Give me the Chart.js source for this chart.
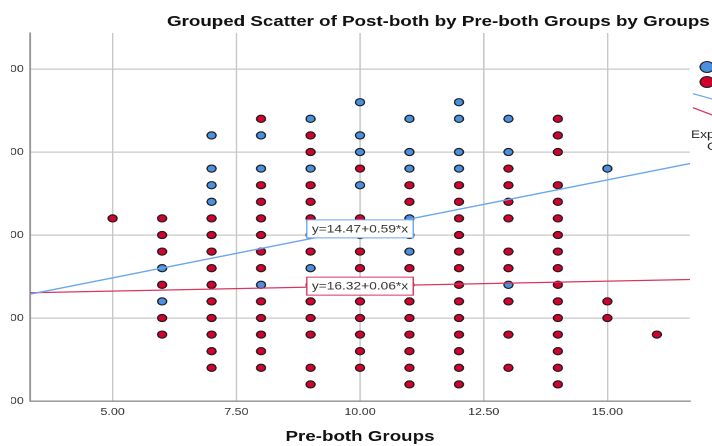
<!DOCTYPE html>
<html>
<head>
<meta charset="utf-8">
<script src="https://cdn.jsdelivr.net/npm/chart.js@4.4.1/dist/chart.umd.min.js"></script>
<style>
  html, body { margin: 0; padding: 0; background: #fff; }
  /* the reference is a cropped, slightly stretched SPSS chart */
  #crop { position: absolute; left: 11px; top: 0; width: 701px; height: 446px; overflow: hidden; }
  #stretch { position: absolute; left: -71px; top: 0; width: 720px; height: 446px;
             transform: scaleX(1.25); transform-origin: 0 0; }
</style>
</head>
<body>
<div id="crop"><div id="stretch"><canvas id="chart"></canvas></div></div>
<script>
const preLevels = [5, 6, 7, 8, 9, 10, 11, 12, 13, 14, 15, 16];

// Post-both values for each Pre-both level
const expPost = [
    [],
    [18, 16],
    [26, 24, 23, 22],
    [26, 24, 17],
    [27, 24, 18],
    [28, 26, 25, 23],
    [27, 25, 24, 21, 19],
    [28, 27, 25, 24],
    [27, 25, 17],
    [],
    [24],
    []
];
const ctrlPost = [
    [21],
    [21, 20, 19, 17, 15, 14],
    [21, 20, 19, 18, 17, 16, 15, 14, 13, 12],
    [27, 23, 22, 21, 20, 19, 18, 16, 15, 14, 13, 12],
    [26, 25, 23, 22, 21, 20, 19, 17, 16, 15, 14, 12, 11],
    [24, 21, 20, 19, 18, 17, 16, 15, 14, 13, 12],
    [23, 22, 20, 18, 17, 16, 15, 14, 13, 12, 11],
    [23, 22, 21, 20, 19, 18, 17, 16, 15, 14, 13, 12, 11],
    [24, 23, 22, 21, 19, 18, 16, 14, 12],
    [27, 26, 25, 23, 22, 21, 20, 19, 18, 17, 16, 15, 14, 13, 12, 11],
    [16, 15],
    [14]
];

const xTicks = [5, 7.5, 10, 12.5, 15];
const yTicks = [10, 15, 20, 25, 30];
const xRange = [3.33, 16.67];
const yRange = [10, 32.17];

const expFit = { a: 14.47, b: 0.59 };
const ctrlFit = { a: 16.32, b: 0.06 };
const groupNames = ["Experimental", "Control"];

const BLUE = "#4a8fe0";
const RED = "#d0022e";
const BLUE_LINE = "#6aa6ee";
const RED_LINE = "#da3560";
const FONT = '"Liberation Sans", Arial, sans-serif';

function toPoints(cols) {
    const pts = [];
    cols.forEach((ys, i) => ys.forEach(y => pts.push({ x: preLevels[i], y: y })));
    return pts;
}

function fitLine(f) {
    return xRange.map(x => ({ x: x, y: f.a + f.b * x }));
}

function fitText(f) {
    return `y=${f.a.toFixed(2)}+${f.b.toFixed(2)}*x`;
}

function rSquared(pts) {
    const n = pts.length;
    const mx = pts.reduce((s, p) => s + p.x, 0) / n;
    const my = pts.reduce((s, p) => s + p.y, 0) / n;
    let sxy = 0, sxx = 0, syy = 0;
    pts.forEach(p => {
        sxy += (p.x - mx) * (p.y - my);
        sxx += (p.x - mx) ** 2;
        syy += (p.y - my) ** 2;
    });
    return (sxy * sxy) / (sxx * syy);
}

const expPoints = toPoints(expPost);
const ctrlPoints = toPoints(ctrlPost);

// box labels for the fit lines, placed at the middle of the x range
const fitLabels = {
    id: "fitLabels",
    afterDatasetsDraw(chart) {
        const { ctx, scales: { x, y } } = chart;
        const xm = (xRange[0] + xRange[1]) / 2;
        ctx.save();
        ctx.font = "11px " + FONT;
        [[expFit, BLUE_LINE], [ctrlFit, RED_LINE]].forEach(([f, col]) => {
            const txt = fitText(f);
            const px = x.getPixelForValue(xm);
            const py = y.getPixelForValue(f.a + f.b * xm);
            const w = ctx.measureText(txt).width + 8;
            const h = 18;
            ctx.fillStyle = "#fff";
            ctx.fillRect(px - w / 2, py - h / 2, w, h);
            ctx.strokeStyle = col;
            ctx.lineWidth = 1;
            ctx.strokeRect(px - w / 2, py - h / 2, w, h);
            ctx.fillStyle = "#333";
            ctx.textAlign = "center";
            ctx.textBaseline = "middle";
            ctx.fillText(txt, px, py + 0.5);
        });
        ctx.restore();
    }
};

// title and the (mostly cropped) legend on the right
const frame = {
    id: "frame",
    afterDraw(chart) {
        const { ctx, chartArea } = chart;
        const r = chartArea.right;
        ctx.save();
        ctx.fillStyle = "#111";
        ctx.font = "bold 15px " + FONT;
        ctx.textAlign = "left";
        ctx.textBaseline = "alphabetic";
        ctx.fillText("Grouped Scatter of Post-both by Pre-both Groups by Groups", 181.6, 26);

        // markers
        [[BLUE, 67], [RED, 82]].forEach(([c, cy], i) => {
            ctx.beginPath();
            ctx.arc(r + 13.6, cy, 5.5, 0, Math.PI * 2);
            ctx.fillStyle = c;
            ctx.fill();
            ctx.strokeStyle = "#222";
            ctx.lineWidth = 1;
            ctx.stroke();
            ctx.fillStyle = "#222";
            ctx.font = "11px " + FONT;
            ctx.textBaseline = "middle";
            ctx.fillText(groupNames[i], r + 23, cy);
        });

        // fit line swatches
        [[BLUE_LINE, 93.7, 101.7, 98], [RED_LINE, 107.7, 118.7, 113]].forEach(([c, y0, y1, ty], i) => {
            ctx.beginPath();
            ctx.moveTo(r + 2.4, y0);
            ctx.lineTo(r + 25.6, y1);
            ctx.strokeStyle = c;
            ctx.lineWidth = 1.2;
            ctx.stroke();
            ctx.fillStyle = "#222";
            ctx.fillText(groupNames[i], r + 30, ty);
        });

        ctx.font = "11px " + FONT;
        ctx.fillStyle = "#222";
        ctx.textBaseline = "alphabetic";
        ctx.fillText(`${groupNames[0]}: R² Linear = ${rSquared(expPoints).toFixed(3)}`, r + 0.8, 138);
        ctx.fillText(`${groupNames[1]}: R² Linear = ${rSquared(ctrlPoints).toFixed(3)}`, r + 13.6, 150);
        ctx.restore();
    }
};

Chart.defaults.font.family = FONT;

new Chart(document.getElementById("chart"), {
    type: "scatter",
    data: {
        datasets: [
            {
                type: "line",
                label: "fit " + groupNames[0],
                data: fitLine(expFit),
                borderColor: BLUE_LINE,
                borderWidth: 1.3,
                pointRadius: 0,
                fill: false,
                order: 0
            },
            {
                type: "line",
                label: "fit " + groupNames[1],
                data: fitLine(ctrlFit),
                borderColor: RED_LINE,
                borderWidth: 1.3,
                pointRadius: 0,
                fill: false,
                order: 0
            },
            {
                label: groupNames[1],
                data: ctrlPoints,
                backgroundColor: RED,
                borderColor: "#1c1c1c",
                borderWidth: 1.1,
                pointRadius: 3.6,
                order: 1
            },
            {
                label: groupNames[0],
                data: expPoints,
                backgroundColor: BLUE,
                borderColor: "#1c1c1c",
                borderWidth: 1.1,
                pointRadius: 3.6,
                order: 2
            }
        ]
    },
    options: {
        responsive: true,
        maintainAspectRatio: false,
        animation: false,
        devicePixelRatio: 2,
        layout: { padding: { top: 33, right: 120, bottom: 0, left: 0 } },
        plugins: {
            legend: { display: false },
            tooltip: { enabled: false },
            title: { display: false }
        },
        scales: {
            x: {
                type: "linear",
                min: xRange[0],
                max: xRange[1],
                afterBuildTicks: s => { s.ticks = xTicks.map(v => ({ value: v })); },
                afterFit: s => { s.height = 45; },
                grid: { color: "#c8c8c8", lineWidth: 1.2, drawTicks: false },
                border: { color: "#8a8a8a", width: 1.3 },
                ticks: {
                    padding: 5,
                    color: "#333",
                    font: { size: 10 },
                    callback: v => Number(v).toFixed(2)
                },
                title: {
                    display: true,
                    text: "Pre-both Groups",
                    color: "#111",
                    font: { size: 15, weight: "bold" },
                    padding: { top: 0, bottom: 0 }
                }
            },
            y: {
                type: "linear",
                min: yRange[0],
                max: yRange[1],
                afterBuildTicks: s => { s.ticks = yTicks.map(v => ({ value: v })); },
                afterFit: s => { s.width = 72; },
                grid: { color: "#c8c8c8", lineWidth: 1.2, drawTicks: false },
                border: { color: "#8a8a8a", width: 1.3 },
                ticks: {
                    padding: 5,
                    color: "#333",
                    font: { size: 10 },
                    callback: v => Number(v).toFixed(2)
                },
                title: {
                    display: true,
                    text: "Post-both",
                    color: "#111",
                    font: { size: 15, weight: "bold" }
                }
            }
        }
    },
    plugins: [fitLabels, frame]
});
</script>
</body>
</html>
